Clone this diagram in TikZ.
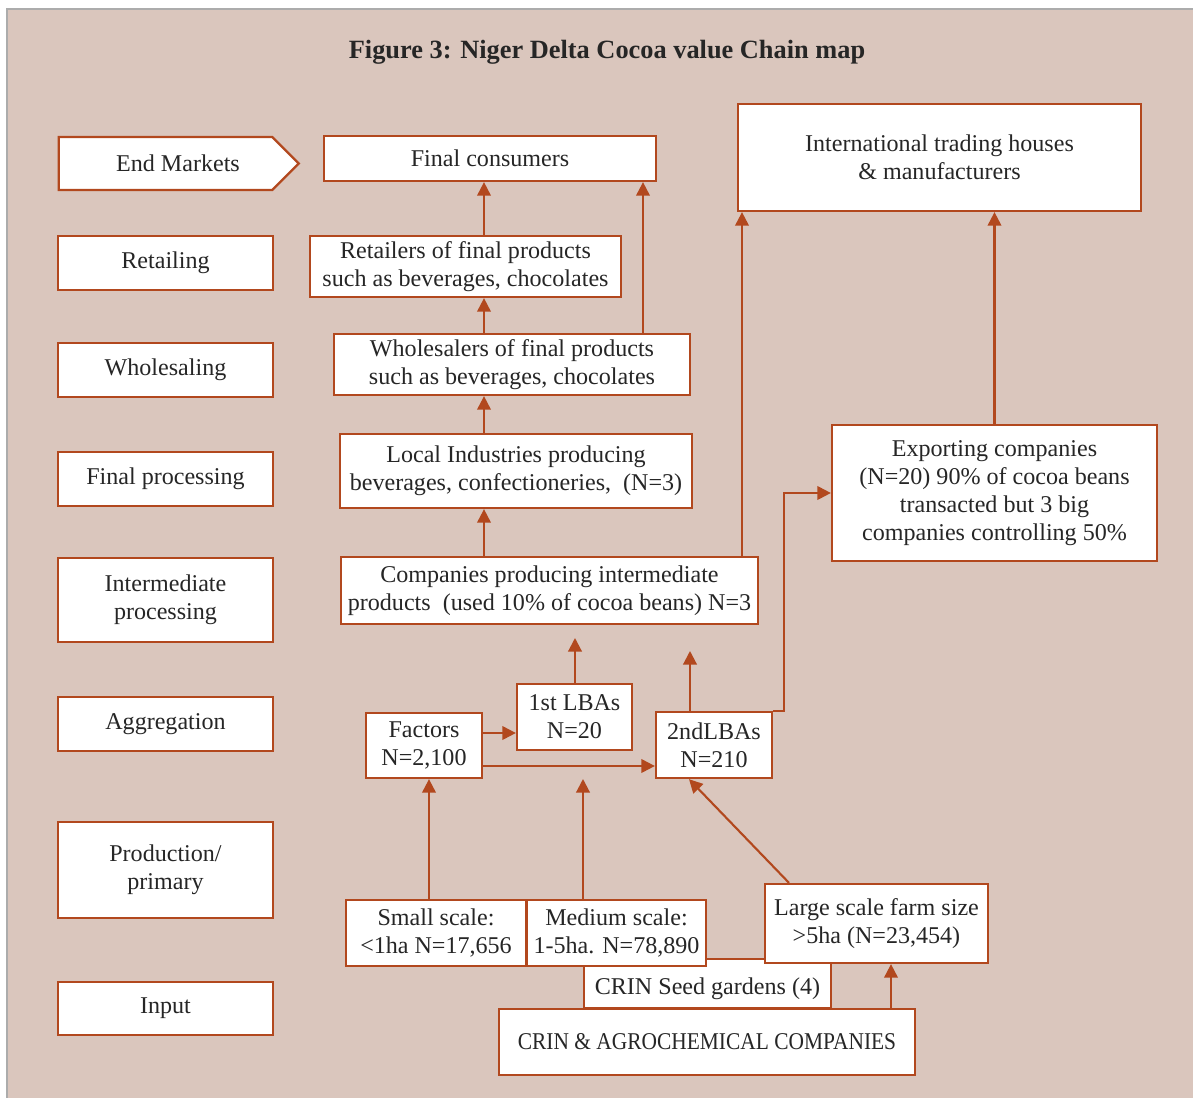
\documentclass[tikz,border=0pt]{standalone}
\usepackage{fontspec}
\setmainfont{Liberation Serif}
\usetikzlibrary{arrows.meta,shapes.symbols}
\definecolor{cus-bg}{RGB}{218, 198, 189}
\definecolor{cus-brown}{RGB}{178, 72, 30}
\definecolor{cus-ink}{RGB}{38, 38, 38}
\definecolor{cus-frame}{RGB}{172, 172, 172}

\begin{document}
\begin{tikzpicture}[x=0.02cm, y=-0.02cm,
	cbox/.style={draw=cus-brown, line width=1.3pt, fill=white, text=cus-ink, align=center, inner sep=0pt,
		font=\fontsize{13.7}{15.8}\selectfont},
	stagebox/.style={cbox, minimum width=4.3cm, minimum height=1.08cm},
	flow/.style={cus-brown, line width=1.2pt, -{Triangle[length=0.27cm, width=0.27cm]}}]
\useasboundingbox (0,0) rectangle (1193,1098);
\fill [cus-bg] (7,9) rectangle (1193,1098);
\draw [cus-frame, line width=1pt] (7,1098) -- (7,9) -- (1193,9);

\node [text=cus-ink, font=\fontsize{15}{18}\selectfont\bfseries] (title) at (607,52) {Figure 3: Niger Delta Cocoa value Chain map};

% stages of the chain
\node [cbox, shape=signal, signal to=east, signal pointer angle=90, minimum width=4.8cm, minimum height=1.06cm] (endm) at (165.5,163.5) {\hspace*{0.5cm}End Markets};
\node [stagebox] (retailing) at (165.5,263) {Retailing};
\node [stagebox] (wholesaling) at (165.5,370) {Wholesaling};
\node [stagebox] (finproc) at (165.5,479) {Final processing};
\node [stagebox, minimum height=1.68cm] (intproc) at (165.5,600) {Intermediate\\processing};
\node [stagebox] (aggreg) at (165.5,724) {Aggregation};
\node [stagebox, minimum height=1.92cm] (prod) at (165.5,870) {Production/\\primary};
\node [stagebox, minimum height=1.06cm] (input) at (165.5,1008.5) {Input};

% actors
\node [cbox, minimum width=6.64cm, minimum height=0.9cm] (fc) at (490,158.5) {Final consumers};
\node [cbox, minimum width=6.22cm, minimum height=1.22cm] (ret) at (465.5,266.5) {Retailers of final products\\such as beverages, chocolates};
\node [cbox, minimum width=7.12cm, minimum height=1.22cm] (whs) at (512,364.5) {Wholesalers of final products\\such as beverages, chocolates};
\node [cbox, minimum width=7.04cm, minimum height=1.48cm] (loc) at (516,471) {Local Industries producing\\beverages, confectioneries,~ (N=3)};
\node [cbox, minimum width=8.34cm, minimum height=1.34cm] (inter) at (549.5,590.5) {Companies producing intermediate\\products~ (used 10\% of cocoa beans) N=3};
\node [cbox, minimum width=8.06cm, minimum height=2.14cm] (intl) at (939.5,157.5) {International trading houses\\\& manufacturers};
\node [cbox, minimum width=6.5cm, minimum height=2.72cm] (exp) at (994.5,493) {Exporting companies\\(N=20) 90\% of cocoa beans\\transacted but 3 big\\companies controlling 50\%};
\node [cbox, minimum width=2.32cm, minimum height=1.3cm] (fac) at (424,745.5) {Factors\\N=2,100};
\node [cbox, minimum width=2.3cm, minimum height=1.32cm] (lba1) at (574.5,717) {1st LBAs\\N=20};
\node [cbox, minimum width=2.32cm, minimum height=1.32cm] (lba2) at (714,745) {2ndLBAs\\N=210};
\node [cbox, minimum width=4.94cm, minimum height=0.98cm] (seed) at (707.5,983.5) {\raisebox{-6pt}[0pt][0pt]{CRIN Seed gardens (4)}};
\node [cbox, minimum width=3.6cm, minimum height=1.32cm] (small) at (436,933) {Small scale:\\<1ha N=17,656};
\node [cbox, minimum width=3.58cm, minimum height=1.32cm] (medium) at (616.5,933) {Medium scale:\\1-5ha. N=78,890};
\node [cbox, minimum width=4.46cm, minimum height=1.58cm] (large) at (876.5,923.5) {Large scale farm size\\>5ha (N=23,454)};
\node [cbox, minimum width=8.32cm, minimum height=1.32cm] (agro) at (707,1042) {\scalebox{0.89}[1]{CRIN \& AGROCHEMICAL COMPANIES}};

% free arrow ends
\coordinate (up1) at (575,638);
\coordinate (up2) at (690,651);
\coordinate (up3) at (583,779);

% flows
\draw [flow] (ret.north -| 484,0) -- (fc.south -| 484,0);
\draw [flow] (whs.north -| 643,0) -- (fc.south -| 643,0);
\draw [flow] (whs.north -| 484,0) -- (ret.south -| 484,0);
\draw [flow] (loc.north -| 484,0) -- (whs.south -| 484,0);
\draw [flow] (inter.north -| 484,0) -- (loc.south -| 484,0);
\draw [flow] (inter.north -| 742,0) -- (intl.south -| 742,0);
\draw [flow] (exp.north) -- (intl.south -| exp.north);
\draw [flow] (lba2.north east) -- ++(11,0) |- (exp.west);
\draw [flow] (lba1.north -| up1) -- (up1);
\draw [flow] (lba2.north -| up2) -- (up2);
\draw [flow] (fac.east |- 0,733) -- (lba1.west |- 0,733);
\draw [flow] (fac.east |- 0,766) -- (lba2.west |- 0,766);
\draw [flow] (small.north -| 429,0) -- (fac.south -| 429,0);
\draw [flow] (medium.north -| up3) -- (up3);
\draw [flow] (large.north -| 789,0) -- (lba2.south -| 689,0);
\draw [flow] (agro.north -| 891,0) -- (large.south -| 891,0);
\end{tikzpicture}
\end{document}
